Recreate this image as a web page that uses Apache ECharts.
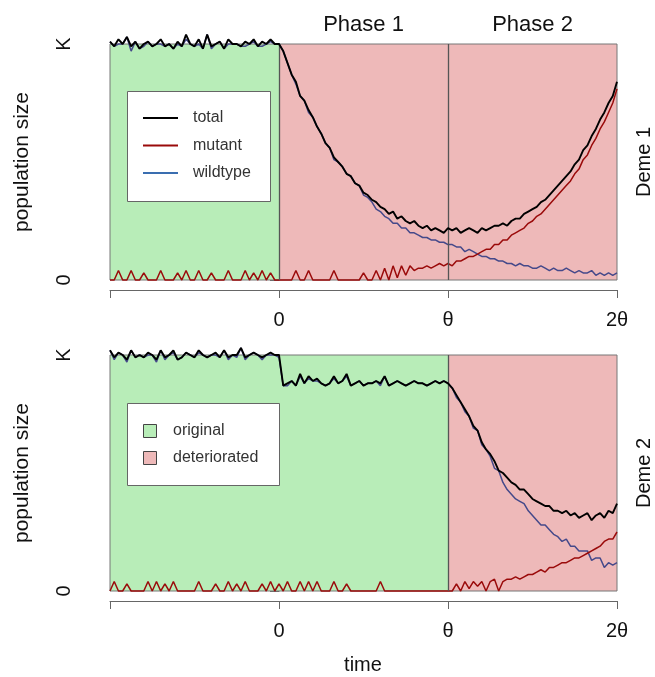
<!DOCTYPE html>
<html><head><meta charset="utf-8">
<script src="https://cdn.jsdelivr.net/npm/echarts@6/dist/echarts.min.js"></script>
<style>html,body{margin:0;padding:0;background:#fff}#c{width:655px;height:677px}</style>
</head><body><div id="c"></div>
<script>
// time grid: t in units of theta, from -1 to 2
const tStart = -1, tStep = 0.025;
const xTickLabels = {'-1': '', '0': '0', '1': 'θ', '2': '2θ'};
const yTickLabels = {'0': '0', '1': 'K'};
const seriesNames = ['total', 'mutant', 'wildtype'];
const envNames = ['original', 'deteriorated'];
const panelNames = ['Deme 1', 'Deme 2'];
const phaseNames = ['Phase 1', 'Phase 2'];

const deme1Total = [1.01,0.99,1.02,1.00,1.03,0.99,1.01,0.98,1.00,1.01,
 0.99,1.00,1.02,0.99,1.00,0.98,1.01,0.99,1.04,1.00,
 0.99,1.02,0.98,1.04,0.99,1.00,1.01,0.98,1.02,1.00,
 1.00,0.99,1.01,1.00,1.02,0.99,1.01,1.00,1.02,1.00,1.00,
 0.97,0.92,0.87,0.84,0.78,0.76,0.72,0.69,0.65,0.62,
 0.58,0.56,0.52,0.50,0.48,0.45,0.44,0.41,0.40,0.37,
 0.36,0.34,0.33,0.31,0.30,0.28,0.29,0.26,0.27,0.25,
 0.24,0.25,0.23,0.22,0.23,0.21,0.22,0.21,0.20,0.22,
 0.21,0.22,0.20,0.21,0.22,0.21,0.20,0.22,0.21,0.22,
 0.23,0.23,0.24,0.23,0.25,0.26,0.26,0.28,0.29,0.30,
 0.31,0.33,0.34,0.36,0.38,0.40,0.42,0.44,0.46,0.49,
 0.51,0.55,0.57,0.61,0.64,0.68,0.71,0.75,0.78,0.84];
const deme1Mutant = [0,0,0.04,0,0,0.04,0,0,0.03,0,
 0,0,0.04,0,0,0,0.03,0,0.04,0,
 0,0.04,0,0,0.03,0,0,0,0.04,0,
 0,0,0.04,0,0.03,0,0.04,0,0.03,0,0,
 0,0,0,0.04,0,0,0.04,0,0,0,
 0,0,0.04,0,0,0,0,0,0,0.03,
 0,0,0.04,0,0.05,0,0.06,0.01,0.06,0.02,
 0.06,0.04,0.05,0.05,0.06,0.05,0.06,0.07,0.06,0.07,
 0.06,0.08,0.08,0.09,0.10,0.10,0.11,0.12,0.13,0.13,
 0.15,0.15,0.17,0.17,0.19,0.20,0.21,0.22,0.24,0.25,
 0.27,0.28,0.30,0.32,0.34,0.36,0.38,0.40,0.42,0.45,
 0.47,0.51,0.53,0.57,0.60,0.64,0.67,0.71,0.75,0.81];
const deme1Wild = [1.01,0.99,1.00,1.00,1.03,0.97,1.01,0.98,0.99,1.01,
 0.99,1.00,1.00,0.99,1.00,0.98,1.00,0.99,1.02,1.00,
 0.99,1.00,0.98,1.04,0.98,1.00,1.01,0.98,1.00,1.00,
 1.00,0.99,0.99,1.00,1.01,0.99,0.99,1.00,1.01,1.00,1.00,
 0.97,0.92,0.87,0.83,0.78,0.76,0.71,0.69,0.65,0.62,
 0.58,0.56,0.51,0.50,0.48,0.45,0.44,0.41,0.40,0.36,
 0.35,0.33,0.30,0.29,0.27,0.26,0.24,0.24,0.22,0.22,
 0.20,0.20,0.19,0.18,0.18,0.17,0.17,0.16,0.16,0.15,
 0.15,0.14,0.14,0.12,0.13,0.12,0.11,0.10,0.10,0.09,
 0.09,0.08,0.08,0.07,0.07,0.06,0.07,0.06,0.06,0.05,
 0.05,0.06,0.05,0.04,0.05,0.04,0.04,0.05,0.04,0.03,
 0.04,0.03,0.03,0.04,0.02,0.03,0.02,0.03,0.02,0.03];

const deme2Total = [1.02,0.99,1.01,1.00,0.98,1.02,0.99,1.00,0.99,1.01,
 1.00,0.98,1.02,0.99,1.00,1.02,0.98,0.99,1.01,1.00,
 0.99,1.02,1.00,0.99,1.00,1.01,0.99,1.02,0.99,1.00,
 1.00,1.03,0.99,1.00,1.01,1.00,0.99,1.00,1.01,1.00,1.00,
 0.87,0.88,0.89,0.87,0.92,0.88,0.91,0.89,0.90,0.88,
 0.87,0.88,0.91,0.88,0.89,0.92,0.87,0.88,0.89,0.87,
 0.88,0.88,0.89,0.88,0.91,0.87,0.88,0.89,0.88,0.87,
 0.88,0.89,0.88,0.88,0.87,0.88,0.89,0.88,0.89,0.88,
 0.86,0.83,0.80,0.77,0.74,0.70,0.68,0.63,0.60,0.58,
 0.55,0.51,0.50,0.48,0.46,0.45,0.43,0.43,0.41,0.39,
 0.38,0.37,0.36,0.36,0.34,0.34,0.33,0.34,0.32,0.33,
 0.31,0.32,0.33,0.30,0.32,0.33,0.31,0.34,0.33,0.37];
const deme2Mutant = [0,0.04,0,0,0.03,0,0,0,0,0.04,
 0,0.04,0,0.03,0,0.04,0,0,0,0,
 0,0.04,0,0,0,0.03,0,0,0.04,0,
 0.03,0,0.04,0,0,0,0.03,0,0.04,0,0.03,
 0,0.04,0,0,0.04,0,0.04,0,0.04,0,
 0,0,0.04,0,0,0.03,0,0,0,0,
 0,0,0,0.04,0,0,0,0,0,0,
 0,0,0,0,0,0,0,0,0,0,
 0,0.03,0,0.04,0.01,0.04,0.02,0.04,0,0.04,
 0.05,0,0.04,0.05,0.05,0.06,0.05,0.06,0.07,0.07,
 0.08,0.09,0.08,0.10,0.10,0.11,0.12,0.12,0.13,0.14,
 0.14,0.15,0.16,0.17,0.18,0.19,0.21,0.22,0.22,0.25];
const deme2Wild = [1.02,0.98,1.01,1.00,0.97,1.02,0.99,1.00,0.99,1.00,
 1.00,0.97,1.02,0.98,1.00,1.01,0.98,0.99,1.01,1.00,
 0.99,1.01,1.00,0.99,1.00,1.00,0.99,1.02,0.98,1.00,
 0.99,1.03,0.98,1.00,1.01,1.00,0.98,1.00,1.00,1.00,0.99,
 0.87,0.87,0.89,0.87,0.91,0.88,0.90,0.89,0.89,0.88,
 0.87,0.88,0.90,0.88,0.89,0.91,0.87,0.88,0.89,0.87,
 0.88,0.88,0.89,0.87,0.91,0.87,0.88,0.89,0.88,0.87,
 0.88,0.89,0.88,0.88,0.87,0.88,0.89,0.88,0.89,0.88,
 0.86,0.82,0.80,0.76,0.74,0.69,0.68,0.62,0.60,0.57,
 0.52,0.51,0.46,0.43,0.41,0.39,0.38,0.37,0.34,0.32,
 0.30,0.28,0.28,0.26,0.24,0.23,0.21,0.22,0.19,0.19,
 0.17,0.17,0.17,0.13,0.14,0.14,0.10,0.12,0.11,0.12];

// environment change points (in theta units) per deme
const deme1Deteriorate = 0;
const deme2Deteriorate = 1;
const phaseBounds = [0, 1, 2];

const GREEN = '#b8edb8', PINK = '#eeb9b9';
const C_TOTAL = '#000000', C_MUT = '#9a0a0a', C_WILD = '#45498a', C_WILD_LEG = '#3a6eb0';
const FONT = 'Liberation Sans';

function pairs(arr) { return arr.map((v, i) => [tStart + i * tStep, v]); }

const GRID_LEFT = 110, GRID_W = 507, GRID_H = 236;
const tops = [44, 355];

function xAxisFor(gi) {
  return {
    type: 'value', gridIndex: gi, min: -1, max: 2, interval: 1, offset: 10,
    axisLine: {show: true, onZero: false, lineStyle: {color: '#666', width: 1}},
    axisTick: {show: true, inside: false, length: 8, lineStyle: {color: '#666'}},
    axisLabel: {formatter: v => xTickLabels[String(Math.round(v))], color: '#111', fontSize: 20, fontFamily: FONT, margin: 20},
    splitLine: {show: false}
  };
}
function yAxisFor(gi) {
  return {
    type: 'value', gridIndex: gi, min: 0, max: 1, interval: 1, offset: 20,
    axisLine: {show: true, lineStyle: {color: '#666', width: 1}},
    axisTick: {show: true, inside: false, length: 9, lineStyle: {color: '#666'}},
    axisLabel: {formatter: v => yTickLabels[String(Math.round(v))], rotate: 90, color: '#111', fontSize: 20, fontFamily: FONT, margin: 16, align: 'center', verticalAlign: 'bottom'},
    splitLine: {show: false}
  };
}

function panelSeries(gi, total, mutant, wild, changeAt, vlines) {
  const bg = [
    [{xAxis: -1, itemStyle: {color: GREEN}}, {xAxis: changeAt}],
    [{xAxis: changeAt, itemStyle: {color: PINK}}, {xAxis: 2}]
  ];
  return [
    {type: 'line', xAxisIndex: gi, yAxisIndex: gi, name: 'wildtype', data: pairs(wild), showSymbol: false, clip: false,
     lineStyle: {color: C_WILD, width: 1.5}, itemStyle: {color: C_WILD}, z: 3,
     markArea: {silent: true, data: bg, itemStyle: {opacity: 1}, z: 1}},
    {type: 'line', xAxisIndex: gi, yAxisIndex: gi, name: 'mutant', data: pairs(mutant), showSymbol: false, clip: false,
     lineStyle: {color: C_MUT, width: 1.5}, itemStyle: {color: C_MUT}, z: 4},
    {type: 'line', xAxisIndex: gi, yAxisIndex: gi, name: 'total', data: pairs(total), showSymbol: false, clip: false,
     lineStyle: {color: C_TOTAL, width: 1.9}, itemStyle: {color: C_TOTAL}, z: 5,
     markLine: {silent: true, symbol: ['none', 'none'], label: {show: false},
       lineStyle: {color: '#555', width: 1.3, type: 'solid'},
       data: vlines.map(v => ({xAxis: v}))},
     markArea: {silent: true, itemStyle: {color: 'rgba(0,0,0,0)', borderColor: '#777', borderWidth: 1},
       data: [[{xAxis: -1, yAxis: 0}, {xAxis: 2, yAxis: 1}]]}}
  ];
}

const gridCenterY = tops.map(t => t + GRID_H / 2);
const graphics = [];
// phase titles
phaseNames.forEach((p, k) => {
  graphics.push({type: 'text', x: GRID_LEFT + GRID_W * ((phaseBounds[k] + phaseBounds[k + 1]) / 2 + 1) / 3, y: 25,
    style: {text: p, font: '22px "' + FONT + '"', fill: '#111', textAlign: 'center', textVerticalAlign: 'middle'}});
});
// y titles and deme labels
gridCenterY.forEach((cy, k) => {
  graphics.push({type: 'text', x: 22, y: cy, rotation: Math.PI / 2,
    style: {text: 'population size', font: '21px "' + FONT + '"', fill: '#111', textAlign: 'center', textVerticalAlign: 'middle'}});
  graphics.push({type: 'text', x: 644, y: cy, rotation: Math.PI / 2,
    style: {text: panelNames[k], font: '20px "' + FONT + '"', fill: '#111', textAlign: 'center', textVerticalAlign: 'middle'}});
});
graphics.push({type: 'text', x: 363, y: 665,
  style: {text: 'time', font: '20px "' + FONT + '"', fill: '#111', textAlign: 'center', textVerticalAlign: 'middle'}});
// legend 1 (lines)
graphics.push({type: 'rect', shape: {x: 127.5, y: 91.5, width: 143, height: 110},
  style: {fill: '#fff', stroke: '#666', lineWidth: 1}, z: 10});
[[C_TOTAL, seriesNames[0]], [C_MUT, seriesNames[1]], [C_WILD_LEG, seriesNames[2]]].forEach((it, k) => {
  const y = 118 + k * 27.5;
  graphics.push({type: 'line', shape: {x1: 143, y1: y, x2: 178, y2: y}, style: {stroke: it[0], lineWidth: 1.8}, z: 11});
  graphics.push({type: 'text', x: 193, y: y, z: 11,
    style: {text: it[1], font: '16px "' + FONT + '"', fill: '#333', textAlign: 'left', textVerticalAlign: 'middle'}});
});
// legend 2 (areas)
graphics.push({type: 'rect', shape: {x: 127.5, y: 403.5, width: 152, height: 82},
  style: {fill: '#fff', stroke: '#666', lineWidth: 1}, z: 10});
[[GREEN, envNames[0]], [PINK, envNames[1]]].forEach((it, k) => {
  const y = 431 + k * 27;
  graphics.push({type: 'rect', shape: {x: 143.5, y: y - 6.5, width: 13, height: 13}, style: {fill: it[0], stroke: '#444', lineWidth: 1}, z: 11});
  graphics.push({type: 'text', x: 173, y: y, z: 11,
    style: {text: it[1], font: '16px "' + FONT + '"', fill: '#333', textAlign: 'left', textVerticalAlign: 'middle'}});
});

const chart = echarts.init(document.getElementById('c'), null, {renderer: 'canvas'});
chart.setOption({
  animation: false,
  backgroundColor: '#fff',
  grid: tops.map(t => ({left: GRID_LEFT, top: t, width: GRID_W, height: GRID_H, show: false})),
  xAxis: [xAxisFor(0), xAxisFor(1)],
  yAxis: [yAxisFor(0), yAxisFor(1)],
  series: [].concat(
    panelSeries(0, deme1Total, deme1Mutant, deme1Wild, deme1Deteriorate, [0, 1]),
    panelSeries(1, deme2Total, deme2Mutant, deme2Wild, deme2Deteriorate, [1])
  ),
  graphic: graphics
});
</script></body></html>
